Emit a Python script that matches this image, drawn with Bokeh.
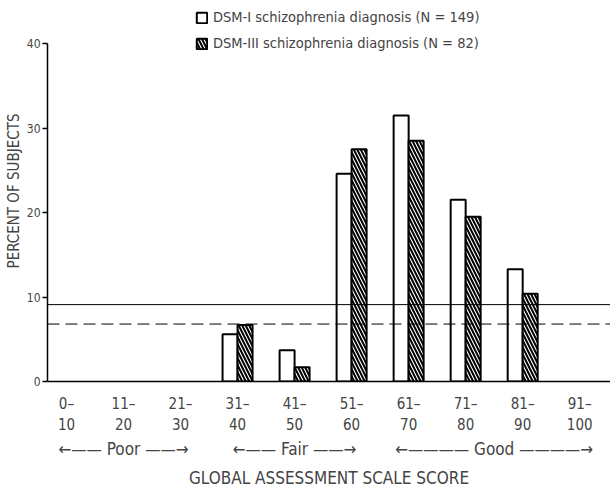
from bokeh.plotting import figure
from bokeh.models import Range1d, LinearAxis, FixedTicker, Span, Legend, LegendItem, ColumnDataSource
from bokeh.embed import file_html
from bokeh.resources import INLINE

# ---- data ----
categories = ["0–\n10", "11–\n20", "21–\n30", "31–\n40", "41–\n50",
              "51–\n60", "61–\n70", "71–\n80", "81–\n90", "91–\n100"]
dsm1 = [0, 0, 0, 5.6, 3.7, 24.6, 31.5, 21.5, 13.3, 0]
dsm3 = [0, 0, 0, 6.7, 1.7, 27.5, 28.5, 19.5, 10.4, 0]
y_ticks = [0, 10, 20, 30, 40]
solid_ref = 9.1
dashed_ref = 6.8
groups = ["Poor", "Fair", "Good"]
group_members = [[0, 1, 2], [3, 4, 5], [6, 7, 8, 9]]
legend_labels = ["DSM-I schizophrenia diagnosis (N = 149)",
                 "DSM-III schizophrenia diagnosis (N = 82)"]

FONT = "DejaVu Sans Condensed"

p = figure(width=610, height=492, output_backend="svg", toolbar_location=None,
           x_range=Range1d(-0.333, 9.54), y_range=Range1d(0, 45.1),
           x_axis_type=None, y_axis_type=None,
           min_border_left=47, min_border_right=0, min_border_top=0, min_border_bottom=111)
p.outline_line_color = None
p.xgrid.visible = False
p.ygrid.visible = False
p.background_fill_color = "white"
p.border_fill_color = "white"

bw = 0.263
idx = [i for i in range(len(categories)) if dsm1[i] > 0 or dsm3[i] > 0]
src1 = ColumnDataSource(dict(x=[i - bw / 2 for i in idx], top=[dsm1[i] for i in idx]))
src3 = ColumnDataSource(dict(x=[i + bw / 2 for i in idx], top=[dsm3[i] for i in idx]))
r1 = p.vbar(x="x", top="top", bottom=0, width=bw, source=src1,
            fill_color="white", line_color="black", line_width=2)
r3 = p.vbar(x="x", top="top", bottom=0, width=bw, source=src3,
            fill_color="white", line_color="black", line_width=2,
            hatch_pattern="\\", hatch_color="black", hatch_weight=2, hatch_scale=7)

p.add_layout(Span(location=solid_ref, dimension="width", line_color="black", line_width=1))
p.add_layout(Span(location=dashed_ref, dimension="width", line_color="black", line_width=1,
                  line_dash="12 6"))

yaxis = LinearAxis(ticker=FixedTicker(ticks=y_ticks), bounds=(0, 40),
                   axis_label="PERCENT OF SUBJECTS",
                   axis_label_text_font=FONT, axis_label_text_font_size="15px",
                   axis_label_text_font_style="normal", axis_label_standoff=1,
                   major_label_text_font=FONT, major_label_text_font_size="12px",
                   major_label_standoff=2, major_tick_out=5, major_tick_in=0,
                   minor_tick_line_color=None, axis_line_width=1.5, major_tick_line_width=1.5)
p.add_layout(yaxis, "left")

xaxis = LinearAxis(ticker=FixedTicker(ticks=list(range(len(categories)))),
                   major_label_overrides={i: c for i, c in enumerate(categories)},
                   major_label_text_font=FONT, major_label_text_font_size="15px",
                   major_label_standoff=7, major_tick_line_color=None,
                   minor_tick_line_color=None, axis_line_width=1.5)
p.add_layout(xaxis, "below")

centers = [sum(m) / len(m) for m in group_members]
def arrow_text(name, n):
    k = 2 * n - 4
    return "←" + "—" * k + " " + name + " " + "—" * k + "→"
group_labels = {c: arrow_text(g, len(m)) for c, g, m in zip(centers, groups, group_members)}
xaxis2 = LinearAxis(ticker=FixedTicker(ticks=centers),
                    major_label_overrides=group_labels,
                    major_label_text_font=FONT, major_label_text_font_size="17px",
                    major_label_standoff=-5, major_tick_line_color=None,
                    minor_tick_line_color=None, axis_line_color=None,
                    axis_label="GLOBAL ASSESSMENT SCALE SCORE",
                    axis_label_text_font=FONT, axis_label_text_font_size="17px",
                    axis_label_text_font_style="normal", axis_label_standoff=6)
p.add_layout(xaxis2, "below")

legend = Legend(items=[LegendItem(label=legend_labels[0], renderers=[r1]),
                       LegendItem(label=legend_labels[1], renderers=[r3])],
                location=(148, 328), margin=0, padding=0, spacing=6,
                glyph_width=13, glyph_height=13, label_height=20, label_standoff=5,
                label_text_font=FONT, label_text_font_size="14.5px",
                border_line_color=None, background_fill_alpha=0)
p.add_layout(legend)

open("out.html", "w").write(file_html(p, INLINE))
